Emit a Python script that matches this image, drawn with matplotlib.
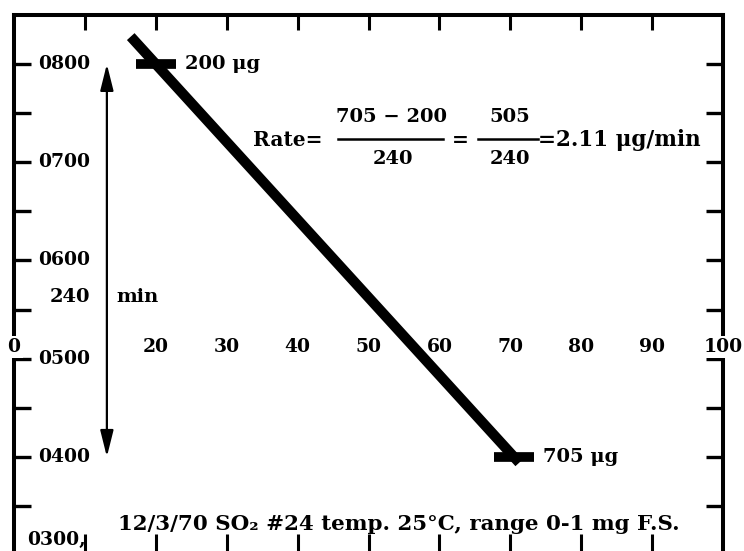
import matplotlib
matplotlib.use("Agg")
import matplotlib.pyplot as plt
from matplotlib.lines import Line2D

# Recorder trace: pen position (% of full scale) against clock time (hours)
pen_pct = [20.0, 70.5]
clock_hr = [8.0, 4.0]
mass_labels = ["200 μg", "705 μg"]

# Scale labels printed across the chart paper
scale_pos = [0, 20, 30, 40, 50, 60, 70, 80, 90, 100]
scale_text = ["0", "20", "30", "40", "50", "60", "70", "80", "90", "100"]
x_tick_pos = [10, 20, 30, 40, 50, 60, 70, 80, 90]

# Clock-time labels on the paper edge
time_pos = [4, 5, 6, 7, 8]
time_text = ["0400", "0500", "0600", "0700", "0800"]
time_last = 3
time_last_text = "0300,"

elapsed_min = int(round((clock_hr[0] - clock_hr[1]) * 60))

W, H = 744, 551
DPI = 100
fig = plt.figure(figsize=(W / DPI, H / DPI), dpi=DPI)
fig.patch.set_facecolor("white")


def font(size=14):
    return dict(family="DejaVu Serif", weight="bold", size=size, color="black")


def px(x, y):
    """Figure-pixel position (from top-left) to figure fraction."""
    return x / W, 1 - y / H


left, right, top, bottom = 14, 723, 15, 555
ax = fig.add_axes([left / W, (H - bottom) / H, (right - left) / W, (bottom - top) / H])
ax.set_xlim(0, 100)
ax.set_ylim(3.0, 8.5)
ax.set_facecolor("white")

for side in ("left", "right", "top"):
    ax.spines[side].set_linewidth(2.9)
ax.spines["bottom"].set_visible(False)

ax.set_xticks(x_tick_pos)
ax.set_yticks([3, 4, 5, 6, 7, 8])
ax.set_yticks([3.5, 4.5, 5.5, 6.5, 7.5], minor=True)
ax.tick_params(axis="x", which="both", direction="in", length=15, width=2.2,
               bottom=True, top=False, labelbottom=False)
ax.tick_params(axis="y", which="both", direction="in", length=12, width=2.4,
               left=True, right=True, labelleft=False)

# top edge ticks (shorter than bottom ones)
axt = ax.twiny()
axt.set_xlim(ax.get_xlim())
axt.set_xticks(x_tick_pos)
axt.tick_params(axis="x", direction="in", length=11, width=2.2, labeltop=False)
for s in axt.spines.values():
    s.set_visible(False)

# clock-time labels inside the left edge
for t, lab in zip(time_pos, time_text):
    ax.text(3.4, t, lab, ha="left", va="center", **font(13.5))
ax.text(1.8, time_last + 0.15, time_last_text, ha="left", va="center", **font(13.5))

# percent scale across the middle of the paper
scale_y = 5.12
for p, lab in zip(scale_pos, scale_text):
    ax.text(p, scale_y, lab, ha="center", va="center", zorder=5,
            bbox=dict(facecolor="white", edgecolor="none", pad=1.5) if p in (0, 100) else None,
            **font(13.5))

# recorder trace, extended a little past the two reading points
ext = [-0.07, 1.015]
trace_x = [pen_pct[0] + (pen_pct[1] - pen_pct[0]) * f for f in ext]
trace_y = [clock_hr[0] + (clock_hr[1] - clock_hr[0]) * f for f in ext]
ax.plot(trace_x, trace_y, color="black", lw=7.4, solid_capstyle="butt", zorder=4)

# reading marks and their masses
ax.plot(pen_pct, clock_hr, linestyle="none", marker="_", markersize=29,
        markeredgewidth=7, color="black", zorder=4)
for p, t, lab in zip(pen_pct, clock_hr, mass_labels):
    ax.annotate(lab, (p, t), xytext=(21, 0), textcoords="offset points",
                ha="left", va="center", **font(14))

# elapsed-time arrow
ax.annotate("", xy=(13.1, clock_hr[1]), xytext=(13.1, clock_hr[0]),
            arrowprops=dict(arrowstyle="<|-|>,head_length=0.8,head_width=0.2",
                            lw=1.6, color="black", mutation_scale=20,
                            shrinkA=0, shrinkB=0))
ax.text(10.7, 5.63, str(elapsed_min), ha="right", va="center", **font(14))
ax.text(14.5, 5.63, "min", ha="left", va="center", **font(14))

# rate calculation
fig.text(*px(253, 140), "Rate=", ha="left", va="center", **font(14.5))
fig.text(*px(392, 117), "705 − 200", ha="center", va="center", **font(14))
fig.add_artist(Line2D([338 / W, 443 / W], [1 - 139 / H] * 2, color="black", lw=1.8))
fig.text(*px(393, 159), "240", ha="center", va="center", **font(14))
fig.text(*px(460, 140), "=", ha="center", va="center", **font(14.5))
fig.text(*px(510, 117), "505", ha="center", va="center", **font(14))
fig.add_artist(Line2D([478 / W, 538 / W], [1 - 139 / H] * 2, color="black", lw=1.8))
fig.text(*px(510, 159), "240", ha="center", va="center", **font(14))
fig.text(*px(538, 140), "=2.11 μg/min", ha="left", va="center", **font(15.5))

# run details
fig.text(*px(118, 524), "12/3/70 SO₂ #24 temp. 25°C, range 0-1 mg F.S.",
         ha="left", va="center", **font(15.4))

fig.savefig("out.png", dpi=DPI, facecolor="white")
